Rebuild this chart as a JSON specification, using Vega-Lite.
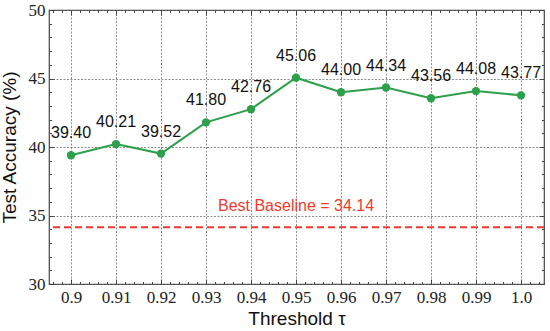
{
  "$schema": "https://vega.github.io/schema/vega-lite/v6.json",
  "width": 495,
  "height": 274,
  "autosize": {"type": "none"},
  "padding": {"left": 49, "top": 10, "right": 6, "bottom": 47},
  "background": "white",
  "config": {
    "view": {"stroke": "#444", "strokeWidth": 1.2}
  },
  "datasets": {
    "acc": [
      {"t": 0.9, "acc": 39.40},
      {"t": 0.91, "acc": 40.21},
      {"t": 0.92, "acc": 39.52},
      {"t": 0.93, "acc": 41.80},
      {"t": 0.94, "acc": 42.76},
      {"t": 0.95, "acc": 45.06},
      {"t": 0.96, "acc": 44.00},
      {"t": 0.97, "acc": 44.34},
      {"t": 0.98, "acc": 43.56},
      {"t": 0.99, "acc": 44.08},
      {"t": 1.0, "acc": 43.77}
    ],
    "base": [
      {"t": 0.95, "acc": 34.14, "label": "Best Baseline = 34.14"}
    ]
  },
  "resolve": {"axis": {"x": "independent", "y": "independent"}},
  "layer": [
    {
      "data": {"name": "base"},
      "mark": {"type": "rule", "color": "#ee3a2e", "strokeWidth": 2, "strokeDash": [7, 4]},
      "encoding": {
        "y": {"field": "acc", "type": "quantitative", "scale": {"domain": [30, 50], "nice": false, "zero": false}, "axis": null}
      }
    },
    {
      "data": {"name": "acc"},
      "mark": {"type": "line", "color": "#2ca04a", "strokeWidth": 2},
      "encoding": {
        "x": {
          "field": "t", "type": "quantitative",
          "scale": {"domain": [0.89511, 1.00511], "nice": false, "zero": false},
          "axis": {
            "orient": "bottom",
            "domain": false,
            "values": [0.9, 0.91, 0.92, 0.93, 0.94, 0.95, 0.96, 0.97, 0.98, 0.99, 1.0],
            "labelExpr": "datum.value >= 0.9999 ? '1.0' : format(datum.value, '.2~f')",
            "labelFont": "Liberation Serif, Times New Roman, serif",
            "labelFontSize": 17,
            "labelColor": "#222",
            "grid": true,
            "gridColor": "#707070",
            "gridDash": [2, 1.5],
            "gridWidth": 0.8,
            "gridOpacity": 1,
            "tickColor": "#444",
            "tickWidth": 1,
            "tickSize": -5,
            "labelPadding": 10,
            "title": "Threshold τ",
            "titleFont": "Liberation Sans",
            "titleFontSize": 19,
            "titleFontWeight": "normal",
            "titleColor": "#111",
            "titlePadding": 4
          }
        },
        "y": {
          "field": "acc", "type": "quantitative",
          "scale": {"domain": [30, 50], "nice": false, "zero": false},
          "axis": {
            "orient": "left",
            "domain": false,
            "values": [30, 35, 40, 45, 50],
            "labelFont": "Liberation Serif, Times New Roman, serif",
            "labelFontSize": 17,
            "labelColor": "#222",
            "grid": true,
            "gridColor": "#707070",
            "gridDash": [2, 1.5],
            "gridWidth": 0.8,
            "gridOpacity": 1,
            "tickColor": "#444",
            "tickWidth": 1,
            "tickSize": -5,
            "labelPadding": 9,
            "title": "Test Accuracy (%)",
            "titleFont": "Liberation Sans",
            "titleFontSize": 19,
            "titleFontWeight": "normal",
            "titleColor": "#111",
            "titlePadding": 9
          }
        }
      }
    },
    {
      "data": {"name": "acc"},
      "mark": {"type": "point", "filled": true, "opacity": 1, "color": "#2ca04a", "size": 70},
      "encoding": {
        "x": {
          "field": "t", "type": "quantitative",
          "scale": {"domain": [0.89511, 1.00511], "nice": false, "zero": false},
          "axis": {
            "orient": "bottom", "domain": false,
            "values": [0.896, 0.898, 0.902, 0.904, 0.906, 0.908, 0.912, 0.914, 0.916, 0.918, 0.922, 0.924, 0.926, 0.928, 0.932, 0.934, 0.936, 0.938, 0.942, 0.944, 0.946, 0.948, 0.952, 0.954, 0.956, 0.958, 0.962, 0.964, 0.966, 0.968, 0.972, 0.974, 0.976, 0.978, 0.982, 0.984, 0.986, 0.988, 0.992, 0.994, 0.996, 0.998, 1.002, 1.004],
            "labels": false, "grid": false, "tickSize": -2.5, "tickColor": "#444", "tickWidth": 1, "title": null
          }
        },
        "y": {
          "field": "acc", "type": "quantitative",
          "scale": {"domain": [30, 50], "nice": false, "zero": false},
          "axis": {
            "orient": "left", "domain": false,
            "values": [31, 32, 33, 34, 36, 37, 38, 39, 41, 42, 43, 44, 46, 47, 48, 49],
            "labels": false, "grid": false, "tickSize": -2.5, "tickColor": "#444", "tickWidth": 1, "title": null
          }
        }
      }
    },
    {
      "data": {"name": "acc"},
      "mark": {"type": "text", "font": "Liberation Sans", "fontSize": 16, "color": "#111", "align": "center", "baseline": "alphabetic", "dy": -17},
      "encoding": {
        "x": {
          "field": "t", "type": "quantitative",
          "scale": {"domain": [0.89511, 1.00511], "nice": false, "zero": false},
          "axis": {
            "orient": "top", "domain": false,
            "values": [0.9, 0.91, 0.92, 0.93, 0.94, 0.95, 0.96, 0.97, 0.98, 0.99, 1.0],
            "labels": false, "grid": false, "tickSize": -5, "tickColor": "#444", "tickWidth": 1, "title": null
          }
        },
        "y": {
          "field": "acc", "type": "quantitative",
          "scale": {"domain": [30, 50], "nice": false, "zero": false},
          "axis": {
            "orient": "right", "domain": false,
            "values": [30, 35, 40, 45, 50],
            "labels": false, "grid": false, "tickSize": -5, "tickColor": "#444", "tickWidth": 1, "title": null
          }
        },
        "text": {"field": "acc", "type": "quantitative", "format": ".2f"}
      }
    },
    {
      "data": {"name": "base"},
      "mark": {"type": "text", "font": "Liberation Sans", "fontSize": 16, "color": "#ee3a2e", "align": "center", "baseline": "alphabetic", "dy": -16},
      "encoding": {
        "x": {
          "field": "t", "type": "quantitative",
          "scale": {"domain": [0.89511, 1.00511], "nice": false, "zero": false},
          "axis": {
            "orient": "top", "domain": false,
            "values": [0.896, 0.898, 0.902, 0.904, 0.906, 0.908, 0.912, 0.914, 0.916, 0.918, 0.922, 0.924, 0.926, 0.928, 0.932, 0.934, 0.936, 0.938, 0.942, 0.944, 0.946, 0.948, 0.952, 0.954, 0.956, 0.958, 0.962, 0.964, 0.966, 0.968, 0.972, 0.974, 0.976, 0.978, 0.982, 0.984, 0.986, 0.988, 0.992, 0.994, 0.996, 0.998, 1.002, 1.004],
            "labels": false, "grid": false, "tickSize": -2.5, "tickColor": "#444", "tickWidth": 1, "title": null
          }
        },
        "y": {
          "field": "acc", "type": "quantitative",
          "scale": {"domain": [30, 50], "nice": false, "zero": false},
          "axis": {
            "orient": "right", "domain": false,
            "values": [31, 32, 33, 34, 36, 37, 38, 39, 41, 42, 43, 44, 46, 47, 48, 49],
            "labels": false, "grid": false, "tickSize": -2.5, "tickColor": "#444", "tickWidth": 1, "title": null
          }
        },
        "text": {"field": "label", "type": "nominal"}
      }
    }
  ]
}
